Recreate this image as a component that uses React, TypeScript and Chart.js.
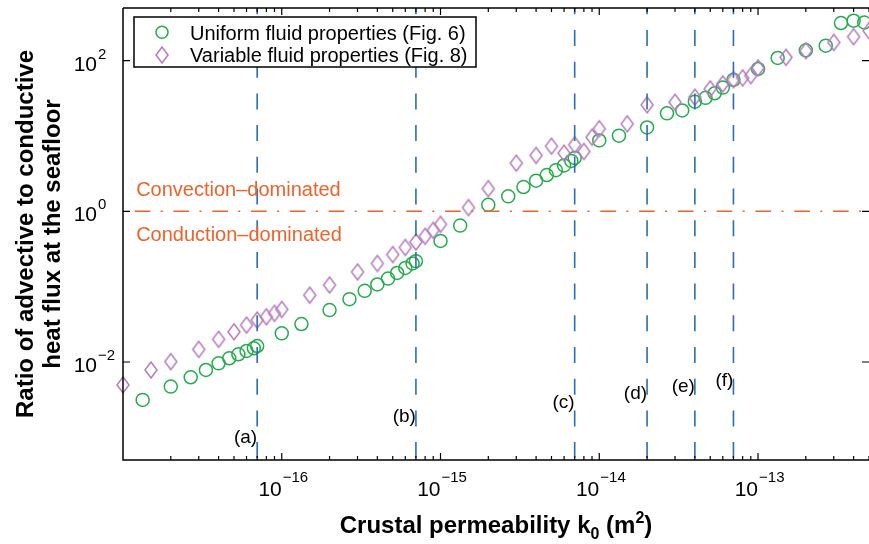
import React, { useEffect, useRef } from "react";
import { Chart, registerables } from "chart.js";

Chart.register(...registerables);

// ---------------- data ----------------
const uniformK = [
  1.33e-17, 2.0e-17, 2.67e-17, 3.33e-17, 4.0e-17, 4.67e-17, 5.33e-17, 6.0e-17, 6.67e-17, 7.0e-17,
  1.0e-16, 1.33e-16, 2.0e-16, 2.67e-16, 3.33e-16, 4.0e-16, 4.67e-16, 5.33e-16, 6.0e-16, 6.67e-16, 7.0e-16,
  1.0e-15, 1.33e-15, 2.0e-15, 2.67e-15, 3.33e-15, 4.0e-15, 4.67e-15, 5.33e-15, 6.0e-15, 6.67e-15, 7.0e-15,
  1.0e-14, 1.33e-14, 2.0e-14, 2.67e-14, 3.33e-14, 4.0e-14, 4.67e-14, 5.33e-14, 6.0e-14, 7.0e-14,
  1.0e-13, 1.33e-13, 2.0e-13, 2.67e-13, 3.33e-13, 4.0e-13, 4.67e-13,
];
const uniformRatio = [
  3.14e-3, 4.71e-3, 6.27e-3, 7.83e-3, 9.6e-3, 0.0112, 0.01265, 0.014, 0.0152, 0.0163,
  0.024, 0.0319, 0.0489, 0.0683, 0.088, 0.107, 0.128, 0.152, 0.177, 0.203, 0.218,
  0.404, 0.647, 1.22, 1.58, 2.1, 2.55, 3.03, 3.52, 4.07, 4.67, 5.11,
  8.72, 10.1, 12.97, 20.0, 21.8, 28.5, 32.1, 36.9, 43.9, 55.7,
  77.6, 108.6, 137, 158, 316, 339, 322,
];
const variableK = [
  1e-17, 1.5e-17, 2e-17, 3e-17, 4e-17, 5e-17, 6e-17, 7e-17, 8e-17, 9e-17,
  1e-16, 1.5e-16, 2e-16, 3e-16, 4e-16, 5e-16, 6e-16, 7e-16, 8e-16, 9e-16,
  1e-15, 1.5e-15, 2e-15, 3e-15, 4e-15, 5e-15, 6e-15, 7e-15, 8e-15, 9e-15,
  1e-14, 1.5e-14, 2e-14, 3e-14, 4e-14, 5e-14, 6e-14, 7e-14, 8e-14, 9e-14,
  1e-13, 1.5e-13, 2e-13, 3e-13, 4e-13, 5e-13,
];
const variableRatio = [
  4.96e-3, 7.83e-3, 0.0101, 0.0147, 0.02, 0.0252, 0.0309, 0.036, 0.0398, 0.0442,
  0.0499, 0.0771, 0.105, 0.157, 0.203, 0.267, 0.331, 0.392, 0.466, 0.56,
  0.673, 1.12, 2.0, 4.36, 5.52, 7.33, 5.92, 7.65, 6.23, 9.64,
  12.5, 14.5, 25.9, 28.0, 32.7, 42.2, 49.1, 56, 59, 63.3,
  80, 110.6, 135.6, 174.7, 208, 250,
];
const seriesLabels = ["Uniform fluid properties (Fig. 6)", "Variable fluid properties (Fig. 8)"];

const caseLabels = ["(a)", "(b)", "(c)", "(d)", "(e)", "(f)"];
const caseK = [7e-17, 7e-16, 7e-15, 2e-14, 4e-14, 7e-14];
const caseLabelRatio = [1.0e-3, 1.87e-3, 2.86e-3, 3.77e-3, 4.67e-3, 5.6e-3];

const regimeThreshold = 1;
const regimeLabels = ["Convection\u2013dominated", "Conduction\u2013dominated"];
const regimeLabelK = 1.21e-17;
const regimeLabelRatio = [1.58, 0.4];

const xTickValues = [1e-16, 1e-15, 1e-14, 1e-13];
const xTickExponents = ["\u221216", "\u221215", "\u221214", "\u221213"];
const xMinorMultipliers = [2, 3, 4, 5, 6, 7, 8, 9];
const yTickValues = [1e-2, 1, 1e2];
const yTickExponents = ["\u22122", "0", "2"];

const xMin = 1e-17;
const xMax = 5e-13;
const yMin = 5e-4;
const yMax = 500;

// ---------------- styles ----------------
const GREEN = "#25ad4c";
const PURPLE = "#b67cc0";
const BLUE = "#2a6db8";
const ORANGE = "#f0622c";
const FONT = '"Liberation Sans", Arial, Helvetica, sans-serif';

function makeDiamond(color: string, w: number, h: number, lw: number) {
  const c = document.createElement("canvas");
  c.width = w + 4;
  c.height = h + 4;
  const g = c.getContext("2d")!;
  g.strokeStyle = color;
  g.lineWidth = lw;
  const cx = c.width / 2;
  const cy = c.height / 2;
  g.beginPath();
  g.moveTo(cx, cy - h / 2);
  g.lineTo(cx + w / 2, cy);
  g.lineTo(cx, cy + h / 2);
  g.lineTo(cx - w / 2, cy);
  g.closePath();
  g.stroke();
  return c;
}

export default function App() {
  const ref = useRef<HTMLCanvasElement | null>(null);

  useEffect(() => {
    const canvas = ref.current;
    if (!canvas) return;
    const diamond = makeDiamond(PURPLE, 12, 16, 1.5);

    const decor = {
      id: "decor",
      afterDatasetsDraw(chart: any) {
        const ctx = chart.ctx as CanvasRenderingContext2D;
        const xs = chart.scales.x;
        const ys = chart.scales.y;
        ctx.save();
        // regime labels
        ctx.fillStyle = ORANGE;
        ctx.font = `20px ${FONT}`;
        ctx.textAlign = "left";
        ctx.textBaseline = "alphabetic";
        regimeLabels.forEach((t, i) => {
          ctx.fillText(t, xs.getPixelForValue(regimeLabelK), ys.getPixelForValue(regimeLabelRatio[i]));
        });
        // case labels
        ctx.fillStyle = "#000";
        ctx.font = `19px ${FONT}`;
        ctx.textAlign = "right";
        ctx.textBaseline = "middle";
        caseLabels.forEach((t, i) => {
          ctx.fillText(t, xs.getPixelForValue(caseK[i]), ys.getPixelForValue(caseLabelRatio[i]));
        });
        ctx.restore();
      },
      afterDraw(chart: any) {
        const ctx = chart.ctx as CanvasRenderingContext2D;
        const xs = chart.scales.x;
        const ys = chart.scales.y;
        const { left, right, top, bottom } = chart.chartArea;
        ctx.save();
        // frame
        ctx.strokeStyle = "#000";
        ctx.lineWidth = 1.5;
        ctx.beginPath();
        ctx.moveTo(left, top);
        ctx.lineTo(right, top);
        ctx.moveTo(left, top);
        ctx.lineTo(left, bottom);
        ctx.lineTo(right, bottom);
        ctx.stroke();
        // x ticks
        ctx.lineWidth = 1.2;
        ctx.beginPath();
        const decades = xTickValues.map((v) => v / 10).concat(xTickValues);
        const uniq = Array.from(new Set(decades.map((v) => Math.round(Math.log10(v)))));
        uniq.forEach((d) => {
          const base = Math.pow(10, d);
          const list = [{ v: base, len: 7 }].concat(xMinorMultipliers.map((m) => ({ v: m * base, len: 4 })));
          list.forEach(({ v, len }) => {
            if (v <= xMin * 1.0001 || v > xMax * 1.0001) return;
            const px = xs.getPixelForValue(v);
            ctx.moveTo(px, bottom);
            ctx.lineTo(px, bottom - len);
            ctx.moveTo(px, top);
            ctx.lineTo(px, top + len);
          });
        });
        yTickValues.forEach((v) => {
          const py = ys.getPixelForValue(v);
          ctx.moveTo(left, py);
          ctx.lineTo(left + 7, py);
          ctx.moveTo(right, py);
          ctx.lineTo(right - 7, py);
        });
        ctx.stroke();
        // tick labels
        ctx.fillStyle = "#000";
        ctx.textBaseline = "alphabetic";
        xTickValues.forEach((v, i) => {
          const px = xs.getPixelForValue(v);
          ctx.font = `21px ${FONT}`;
          ctx.textAlign = "right";
          ctx.fillText("10", px, bottom + 36);
          ctx.font = `15px ${FONT}`;
          ctx.textAlign = "left";
          ctx.fillText(xTickExponents[i], px + 1, bottom + 22);
        });
        yTickValues.forEach((v, i) => {
          const py = ys.getPixelForValue(v);
          ctx.font = `21px ${FONT}`;
          ctx.textAlign = "right";
          ctx.fillText("10", left - 26, py + 10);
          ctx.font = `15px ${FONT}`;
          ctx.textAlign = "left";
          ctx.fillText(yTickExponents[i], left - 25, py - 2);
        });
        // x title
        const big = `bold 24px ${FONT}`;
        const small = `bold 16px ${FONT}`;
        const parts = [
          { t: "Crustal permeability k", f: big, dy: 0 },
          { t: "0", f: small, dy: 6 },
          { t: " (m", f: big, dy: 0 },
          { t: "2", f: small, dy: -10 },
          { t: ")", f: big, dy: 0 },
        ];
        let total = 0;
        parts.forEach((p) => {
          ctx.font = p.f;
          total += ctx.measureText(p.t).width;
        });
        let cx = (left + right) / 2 - total / 2;
        ctx.textAlign = "left";
        const by = bottom + 73;
        parts.forEach((p) => {
          ctx.font = p.f;
          ctx.fillText(p.t, cx, by + p.dy);
          cx += ctx.measureText(p.t).width;
        });
        // y title
        ctx.font = big;
        ctx.textAlign = "center";
        const cy = (top + bottom) / 2;
        [["Ratio of advective to conductive", 33], ["heat flux at the seafloor", 60]].forEach(([t, x]) => {
          ctx.save();
          ctx.translate(x as number, cy);
          ctx.rotate(-Math.PI / 2);
          ctx.fillText(t as string, 0, 0);
          ctx.restore();
        });
        // legend
        const lx = left + 11;
        const ly = top + 9;
        ctx.fillStyle = "#fff";
        ctx.fillRect(lx, ly, 342, 50);
        ctx.strokeStyle = "#000";
        ctx.lineWidth = 1.5;
        ctx.strokeRect(lx, ly, 342, 50);
        ctx.strokeStyle = GREEN;
        ctx.beginPath();
        ctx.arc(lx + 28, ly + 15.3, 6, 0, Math.PI * 2);
        ctx.stroke();
        ctx.drawImage(diamond, lx + 28 - diamond.width / 2, ly + 38 - diamond.height / 2);
        ctx.fillStyle = "#000";
        ctx.font = `20px ${FONT}`;
        ctx.textAlign = "left";
        ctx.textBaseline = "alphabetic";
        ctx.fillText(seriesLabels[0], lx + 56, ly + 22.5);
        ctx.fillText(seriesLabels[1], lx + 56, ly + 45.2);
        ctx.restore();
      },
    };

    const vLines = caseK.map((k) => ({
      type: "line" as const,
      data: [
        { x: k, y: yMax },
        { x: k, y: yMin },
      ],
      borderColor: BLUE,
      borderWidth: 1.6,
      borderDash: [16, 15.7],
      borderDashOffset: 9.7,
      pointRadius: 0,
      showLine: true,
      order: 0,
    }));

    const chart = new Chart(canvas, {
      type: "scatter",
      data: {
        datasets: [
          {
            label: seriesLabels[0],
            data: uniformK.map((k, i) => ({ x: k, y: uniformRatio[i] })),
            pointStyle: "circle",
            pointRadius: 6.5,
            borderWidth: 1.5,
            borderColor: GREEN,
            backgroundColor: "rgba(0,0,0,0)",
            clip: false as any,
            order: 2,
          },
          {
            label: seriesLabels[1],
            data: variableK.map((k, i) => ({ x: k, y: variableRatio[i] })),
            pointStyle: diamond as any,
            pointRadius: 8,
            borderColor: PURPLE,
            backgroundColor: "rgba(0,0,0,0)",
            clip: false as any,
            order: 1,
          },
          {
            type: "line" as const,
            data: [
              { x: xMin, y: regimeThreshold },
              { x: xMax, y: regimeThreshold },
            ],
            borderColor: ORANGE,
            borderWidth: 1.6,
            borderDash: [15.6, 10.4, 2, 10.8],
            borderDashOffset: 27.1,
            pointRadius: 0,
            showLine: true,
            order: 0,
          } as any,
          ...(vLines as any[]),
        ],
      },
      options: {
        animation: false,
        responsive: false,
        devicePixelRatio: 1,
        events: [],
        layout: { autoPadding: false, padding: { top: 8, right: 0, left: 0, bottom: 0 } },
        plugins: { legend: { display: false }, tooltip: { enabled: false } },
        scales: {
          x: {
            type: "logarithmic",
            min: xMin,
            max: xMax,
            grid: { display: false },
            border: { display: false },
            ticks: { display: false },
            afterFit: (s: any) => {
              s.height = 84;
            },
          },
          y: {
            type: "logarithmic",
            min: yMin,
            max: yMax,
            grid: { display: false },
            border: { display: false },
            ticks: { display: false },
            afterFit: (s: any) => {
              s.width = 123;
            },
          },
        },
      } as any,
      plugins: [decor],
    });
    return () => chart.destroy();
  }, []);

  return (
    <div style={{ position: "fixed", left: 0, top: 0, width: 869, height: 544, background: "#fff" }}>
      <canvas ref={ref} width={869} height={544} style={{ width: 869, height: 544, display: "block" }} />
    </div>
  );
}
